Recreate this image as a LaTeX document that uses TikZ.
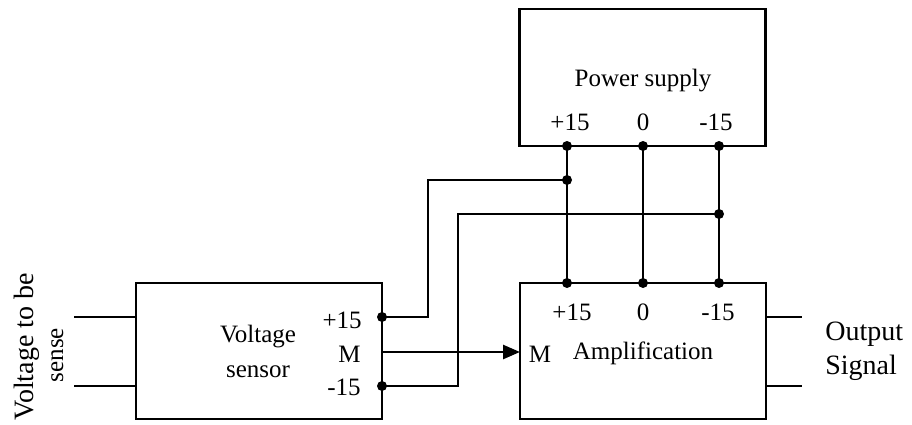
\documentclass[tikz,border=0pt]{standalone}
\usepackage{fontspec}
\setmainfont{Liberation Serif}
\usetikzlibrary{arrows.meta}
\begin{document}
\begin{tikzpicture}[x=1pt,y=-1pt,line width=2.6pt,
  blk/.style={draw,rectangle,minimum width=246pt,minimum height=136pt,inner sep=0pt},
  lbl/.style={font=\fontsize{25}{30}\selectfont,inner sep=0pt},
  big/.style={font=\fontsize{28}{32}\selectfont,inner sep=0pt},
  jdot/.style={circle,fill,inner sep=0pt,minimum size=10pt},
  wire/.style={line width=2.6pt},
  sig/.style={line width=2.6pt,-{Triangle[length=17pt,width=14pt]}}]
\useasboundingbox (0,0) rectangle (912,425);
% blocks
\node[blk,minimum height=137pt] (ps) at (642.5,77.5) {};
\node[blk] (amp) at (643,351) {};
\node[blk] (sen) at (259,351) {};
% texts
\node[lbl,anchor=base] (pst) at (643,87) {Power supply};
\node[lbl,anchor=base] (psa) at (570,130) {+15};
\node[lbl,anchor=base] (psb) at (643,130) {0};
\node[lbl,anchor=base] (psc) at (716,130) {-15};
\node[lbl,anchor=base] (ampa) at (572,320) {+15};
\node[lbl,anchor=base] (ampb) at (643,320) {0};
\node[lbl,anchor=base] (ampc) at (718,320) {-15};
\node[lbl,anchor=base] (ampm) at (540,362) {M};
\node[lbl,anchor=base] (ampt) at (643,359) {Amplification};
\node[lbl,anchor=base east] (sena) at (363,328) {+15};
\node[lbl,anchor=base east] (senm) at (362,362) {M};
\node[lbl,anchor=base east] (senc) at (362,395) {-15};
\node[lbl,anchor=base] (sent1) at (258,342) {Voltage};
\node[lbl,anchor=base] (sent2) at (258,377) {sensor};
\node[big,anchor=base west] (out1) at (824,340) {Output};
\node[big,anchor=base west] (out2) at (824,374) {Signal};
\node[big,rotate=90,anchor=base] (vin1) at (33,347) {Voltage to be};
\node[lbl,rotate=90,anchor=base] (vin2) at (63,355) {sense};
% coordinates
\coordinate (p1) at (567,146);
\coordinate (p2) at (643,146);
\coordinate (p3) at (719,146);
\coordinate (a1) at (567,283);
\coordinate (a2) at (643,283);
\coordinate (a3) at (719,283);
\coordinate (j1) at (567,180);
\coordinate (j3) at (719,214);
\coordinate (s1) at (382,317);
\coordinate (sm) at (382,352);
\coordinate (s3) at (382,386);
\coordinate (am) at (520,352);
\coordinate (i1a) at (74,317);
\coordinate (i1b) at (136,317);
\coordinate (i2a) at (74,386);
\coordinate (i2b) at (136,386);
\coordinate (o1a) at (766,317);
\coordinate (o1b) at (802,317);
\coordinate (o2a) at (766,386);
\coordinate (o2b) at (802,386);
% wires
\draw[wire] (p1) -- (a1);
\draw[wire] (p2) -- (a2);
\draw[wire] (p3) -- (a3);
\draw[wire] (s1) -| (428,180) -- (j1);
\draw[wire] (s3) -| (458,214) -- (j3);
\draw[sig] (sm) -- (am);
\draw[wire] (i1a) -- (i1b);
\draw[wire] (i2a) -- (i2b);
\draw[wire] (o1a) -- (o1b);
\draw[wire] (o2a) -- (o2b);
% dots
\foreach \c in {p1,p2,p3,a1,a2,a3,j1,j3,s1,s3}
  \node[jdot] at (\c) {};
\end{tikzpicture}
\end{document}
